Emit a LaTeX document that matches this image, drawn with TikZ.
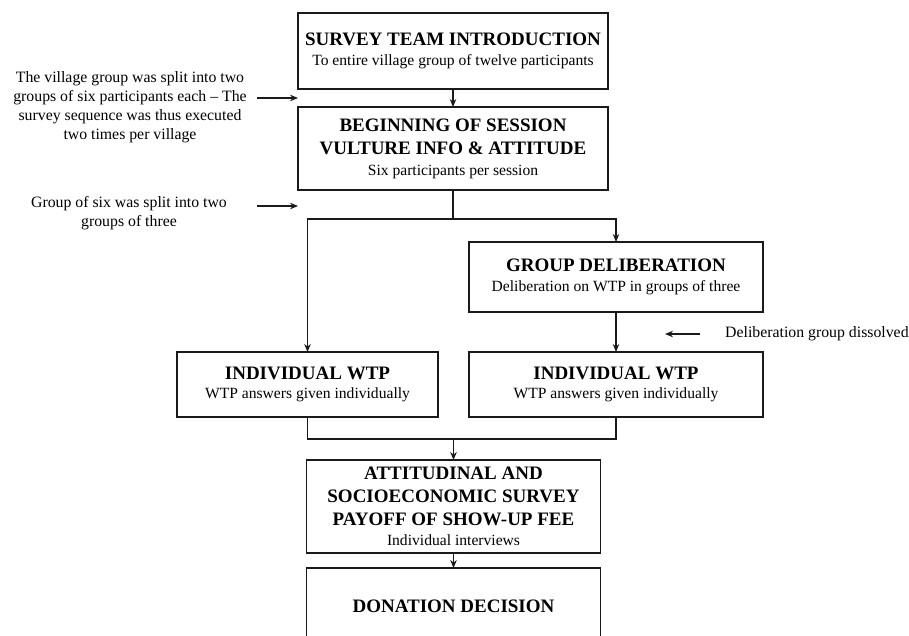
\documentclass[tikz,border=0pt]{standalone}
\usepackage{fontspec}
\setmainfont{Liberation Serif}
\usepackage{tikz}
\usetikzlibrary{positioning,arrows.meta}
\definecolor{lineg}{HTML}{1A1A1A}
\newcommand{\hdfont}{\fontsize{19}{23}\selectfont\bfseries}
\newcommand{\subfont}{\fontsize{15.6}{21}\selectfont\mdseries}
\newcommand{\notefont}{\fontsize{15.8}{19}\selectfont}

\begin{document}
\begin{tikzpicture}[
    x=1pt, y=1pt,
    box/.style={draw=lineg, line width=1.3pt, minimum width=310pt, align=center, inner sep=0pt, outer sep=0pt, font=\hdfont},
    note/.style={align=center, font=\notefont, inner sep=0pt},
    arr/.style={-{Stealth[length=8pt,width=6.5pt]}, line width=1.3pt, lineg},
    ln/.style={line width=1.3pt, lineg}
]
  \useasboundingbox (0,0) rectangle (909,-635);

  % main column
  \node[box, minimum height=76pt] (intro) at (453,-51)
       {SURVEY TEAM INTRODUCTION\\[-3pt]\subfont To entire village group of twelve participants};
  \node[box, minimum height=83pt, below=18pt of intro] (begin)
       {BEGINNING OF SESSION\\VULTURE INFO \& ATTITUDE\\[-2pt]\subfont Six participants per session};

  % two branches
  \node[box, minimum width=294pt, minimum height=70pt, below=52pt of begin, xshift=163pt] (delib)
       {GROUP DELIBERATION\\[-3pt]\subfont Deliberation on WTP in groups of three};
  \node[box, minimum width=294pt, minimum height=65pt, below=40pt of delib] (wtpR)
       {INDIVIDUAL WTP\\[-4pt]\subfont WTP answers given individually};
  \node[box, minimum width=261pt, minimum height=65pt, left=31pt of wtpR] (wtpL)
       {INDIVIDUAL WTP\\[-4pt]\subfont WTP answers given individually};

  % after the branches
  \node[box, minimum width=294pt, minimum height=93pt, below=43pt of wtpL, xshift=146pt] (survey)
       {ATTITUDINAL AND\\SOCIOECONOMIC SURVEY\\PAYOFF OF SHOW-UP FEE\\[-3pt]\subfont Individual interviews};
  \node[box, minimum width=294pt, minimum height=77pt, below=15pt of survey] (donate)
       {DONATION DECISION};

  \draw[arr] (intro) -- (begin);
  \coordinate[below=29pt of begin.south] (split);
  \draw[arr] (begin.south) -- (split) -| (wtpL.north);
  \draw[arr] (split) -| (delib.north);
  \draw[arr] (delib) -- (wtpR);
  \coordinate[above=21pt of survey.north] (join);
  \draw[ln] (wtpL.south) |- (join);
  \draw[ln] (wtpR.south) |- (join);
  \draw[arr] (join) -- (survey);
  \draw[arr] (survey) -- (donate);

  % side notes
  \node[note] (noteA) at (130,-107.5)
       {The village group was split into two\\groups of six participants each -- The\\survey sequence was thus executed\\two times per village};
  \coordinate[below=9pt of intro.south west] (gapA);
  \draw[arr] ([xshift=-41pt]gapA) -- (gapA);

  \node[note] (noteB) at (129,-213.5)
       {Group of six was split into two\\groups of three};
  \coordinate[below=16pt of begin.south west] (gapB);
  \draw[arr] ([xshift=-41pt]gapB) -- (gapB);

  \node[note, anchor=west] (noteC) at (725,-334) {Deliberation group dissolved};
  \coordinate[left=60pt of noteC.west] (gapC);
  \draw[arr] ([xshift=-25pt]noteC.west) -- (gapC);
\end{tikzpicture}
\end{document}
